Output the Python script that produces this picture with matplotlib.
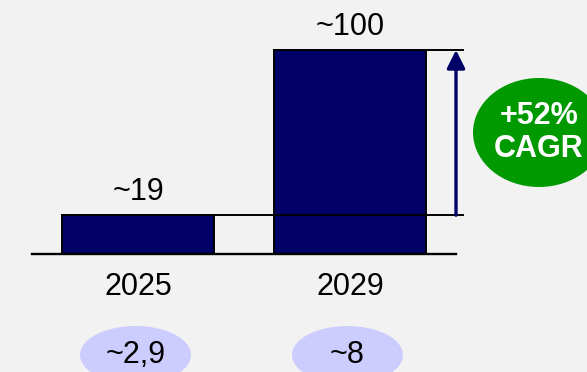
import matplotlib.pyplot as plt
from matplotlib.patches import Ellipse

anos = ["2025", "2029"]
valores = [19, 100]
rotulos = ["~19", "~100"]
bolhas = ["~2,9", "~8"]
cagr = "+52%\nCAGR"

plt.rcParams["font.family"] = ["Liberation Sans", "DejaVu Sans"]
fundo = "#f2f2f2"
azul = "#000066"

fig = plt.figure(figsize=(5.87, 3.72), dpi=100, facecolor=fundo)
ax = fig.add_axes([0, 0, 1, 1])
ax.set_facecolor(fundo)
ax.axis("off")

# escala: 212 px por categoria, 2.04 px por unidade
ax.set_xlim(-138 / 212, (587 - 138) / 212)
ax.set_ylim(-(372 - 254) / 2.04, 254 / 2.04)

x = range(len(anos))
larg = 152 / 212
ax.bar(x, valores, width=larg, color=azul, edgecolor="black", linewidth=1.4, zorder=3)

# linha base e linhas de referência
ax.plot([-0.5, 1.5], [0, 0], color="black", lw=1.7, zorder=4)
ax.plot([-larg / 2, 1.533], [valores[0]] * 2, color="black", lw=1.4, zorder=4)
ax.plot([1 - larg / 2, 1.533], [valores[1]] * 2, color="black", lw=1.4, zorder=4)

# seta do crescimento
ax.annotate("", xy=(1.5, valores[1]), xytext=(1.5, valores[0]),
            arrowprops=dict(arrowstyle="-|>,head_width=0.55,head_length=1.1",
                            color=azul, lw=2.4, shrinkA=0, shrinkB=0), zorder=5)

for i, (v, r, a, b) in enumerate(zip(valores, rotulos, anos, bolhas)):
    ax.text(i, v + 11.4, r, ha="center", va="center", fontsize=22)
    ax.text(i, -16.2, a, ha="center", va="center", fontsize=22)
    ax.add_patch(Ellipse((i - 2.5 / 212, -49.5), 111 / 212, 58 / 2.04,
                         facecolor="#ccccff", edgecolor="none"))
    ax.text(i - 2.5 / 212, -49.5, b, ha="center", va="center", fontsize=22)

# bolha do CAGR
cx = (539 - 138) / 212
cy = (254 - 132.5) / 2.04
ax.add_patch(Ellipse((cx, cy), 132 / 212, 109 / 2.04, facecolor="#009900", edgecolor="none"))
ax.text(cx, cy, cagr, ha="center", va="center", fontsize=22, fontweight="bold",
        color="white", linespacing=1.15)

fig.savefig("out.png", dpi=100, facecolor=fundo)
